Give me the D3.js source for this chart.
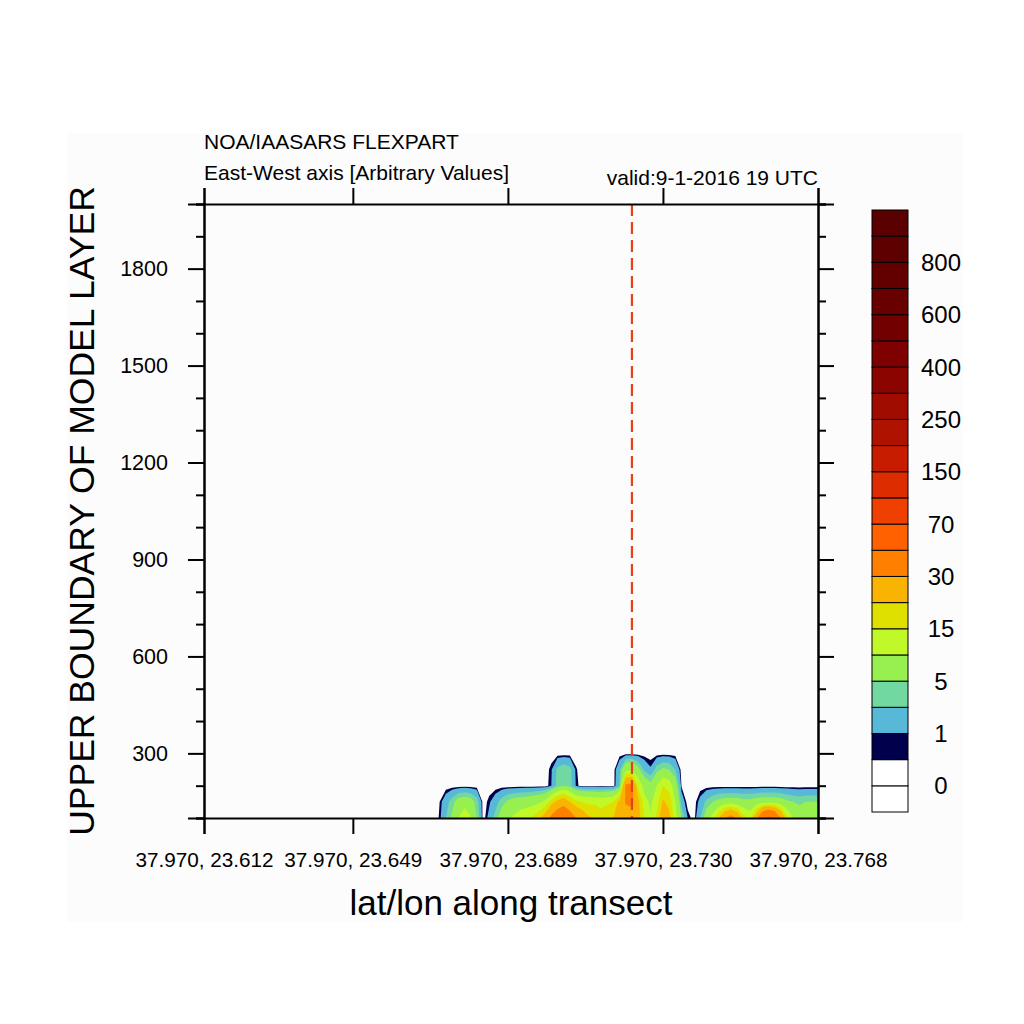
<!DOCTYPE html>
<html>
<head>
<meta charset="utf-8">
<script src="https://cdn.jsdelivr.net/npm/d3@7"></script>
<style>
  html, body { margin: 0; padding: 0; background: #ffffff; }
  svg { display: block; }
  text { font-family: "Liberation Sans", Arial, Helvetica, sans-serif; fill: #000; }
</style>
</head>
<body>
<svg id="chart" width="1024" height="1024"></svg>
<script>
// ---------------- DATA ----------------
const titleLeft1 = "NOA/IAASARS FLEXPART";
const titleLeft2 = "East-West axis [Arbitrary Values]";
const titleRight = "valid:9-1-2016 19 UTC";
const xTitle = "lat/lon along transect";
const yTitle = "UPPER BOUNDARY OF MODEL LAYER";

const nCols = 100;                       // transect points (index 0..99)
const xTickIndex = [0, 24, 49, 74, 99];
const xTickLabels = ["37.970, 23.612", "37.970, 23.649", "37.970, 23.689", "37.970, 23.730", "37.970, 23.768"];
const yDomain = [100, 2000];
const yMajorTicks = [300, 600, 900, 1200, 1500, 1800];
const yMinorTicks = [100, 200, 400, 500, 700, 800, 1000, 1100, 1300, 1400, 1600, 1700, 1900, 2000];
const markerIndex = 69;                  // dashed red vertical line

// grid rows (heights of model levels) and values per row, starting at column colStart
const rowHeights = [100, 150, 200, 250, 300, 350];
const colStart = 37;
const row100 = [0, 0.6, 3, 5.5, 10, 14, 10.5, 5, 0, 1.5, 4, 7, 9, 11, 13, 14, 16, 19, 24, 33, 40, 45, 38, 30, 25, 21, 20, 18, 19, 20, 23, 25, 26, 22, 15, 10.5, 16, 25, 22, 12, 5, 1, 0, 3, 7, 12, 20, 30, 35, 28, 17, 13, 25, 45, 55, 48, 30, 16, 10, 7, 9, 9.5, 9];
const row150 = [0, 0.5, 2, 4, 6.5, 7.5, 6.5, 4, 0, 0.8, 2, 4, 5.5, 6.5, 7, 7.5, 8, 9, 11, 17, 22, 25, 20, 16, 15, 14, 14, 13, 14, 15, 22, 31, 32, 22, 12, 9, 13, 21, 18, 10, 2, 0, 0, 1.5, 3.5, 5, 6, 6.5, 6.5, 6.5, 6, 6, 6.5, 7, 7, 7, 6.5, 5.5, 5, 4.5, 5, 5, 5];
const row200 = [0, 0, 0, 0, 0, 0, 0, 0, 0, 0, 0, 0, 0, 0, 0, 0, 0, 0, 0, 1, 3.8, 4.8, 4, 0.8, 0, 0, 0, 0, 0, 0, 2.9, 32, 33, 14, 8, 6, 10, 15, 13, 7, 0.4, 0, 0, 0, 0, 0, 0, 0, 0, 0, 0, 0, 0, 0, 0, 0, 0, 0, 0, 0, 0, 0, 0];
const row250 = [0, 0, 0, 0, 0, 0, 0, 0, 0, 0, 0, 0, 0, 0, 0, 0, 0, 0, 0, 0.8, 3.5, 4.5, 3.6, 0.6, 0, 0, 0, 0, 0, 0, 2.5, 8.5, 9, 6, 2.5, 1.2, 4, 5.5, 5, 3, 0, 0, 0, 0, 0, 0, 0, 0, 0, 0, 0, 0, 0, 0, 0, 0, 0, 0, 0, 0, 0, 0, 0];
const row300 = [];
const row350 = [];

// colour levels (boundaries) and fill colours (one more than boundaries)
const levels = [0, 0.5, 1, 3, 5, 10, 15, 20, 30, 50, 70, 100, 150, 200, 250, 300, 400, 500, 600, 700, 800, 900];
const levelColors = ["#ffffff", "#ffffff", "#00004c", "#58b8d8", "#70d8a0", "#98f050", "#c0f828", "#e0e000",
  "#f8b400", "#ff8000", "#ff6000", "#f04000", "#dc2c00", "#c81c00", "#b01200", "#a00c00", "#8c0400",
  "#7e0000", "#720000", "#680000", "#620000", "#5e0000", "#5a0000"];
const barLabels = ["0", "1", "5", "15", "30", "70", "150", "250", "400", "600", "800"];

// ---------------- LAYOUT ----------------
const svg = d3.select("#chart");
const plot = { left: 204, right: 818, top: 204, bottom: 818 };
const font = '"Liberation Sans", Arial, Helvetica, sans-serif';

svg.append("rect").attr("x", 67).attr("y", 133).attr("width", 896).attr("height", 789).attr("fill", "#fcfcfc");

const xScale = d3.scaleLinear().domain([0, nCols - 1]).range([plot.left, plot.right]);
const yScale = d3.scaleLinear().domain(yDomain).range([plot.bottom, plot.top]);

// ---------------- GRID & CONTOURS ----------------
const rows = [row100, row150, row200, row250, row300, row350];
const grid = new Array(nCols * rowHeights.length).fill(0);
rows.forEach((r, j) => {
  r.forEach((v, k) => { grid[j * nCols + colStart + k] = v; });
});
const rowStep = rowHeights[1] - rowHeights[0];

const contourGen = d3.contours().size([nCols, rowHeights.length]).thresholds(levels.slice(1));
const bands = contourGen(grid);

const proj = d3.geoTransform({
  point: function (gx, gy) {
    this.stream.point(xScale(gx - 0.5), yScale(rowHeights[0] + (gy - 0.5) * rowStep));
  }
});
const path = d3.geoPath(proj);

svg.append("clipPath").attr("id", "plotclip")
  .append("rect").attr("x", plot.left).attr("y", plot.top)
  .attr("width", plot.right - plot.left).attr("height", plot.bottom - plot.top);

const gC = svg.append("g").attr("clip-path", "url(#plotclip)");
gC.selectAll("path").data(bands).join("path")
  .attr("d", path)
  .attr("fill", (d, i) => levelColors[i + 2])
  .attr("stroke", "none");

// dashed marker line
gC.append("line")
  .attr("x1", xScale(markerIndex)).attr("x2", xScale(markerIndex))
  .attr("y1", plot.top).attr("y2", plot.bottom)
  .attr("stroke", "#e8401a").attr("stroke-width", 2.2)
  .attr("stroke-dasharray", "12,6");

// ---------------- AXES ----------------
function styleAxis(g) {
  g.selectAll(".domain").attr("stroke", "#000").attr("stroke-width", 2);
  g.selectAll(".tick line").attr("stroke", "#000").attr("stroke-width", 2);
  g.selectAll("text").attr("font-family", font).attr("fill", "#000");
}

// left
const gL = svg.append("g").attr("transform", `translate(${plot.left},0)`)
  .call(d3.axisLeft(yScale).tickValues(yMajorTicks).tickSize(16).tickPadding(20).tickFormat(d3.format("d")));
gL.call(styleAxis);
gL.selectAll("text").attr("font-size", 21.5);
svg.append("g").attr("transform", `translate(${plot.left},0)`)
  .call(d3.axisLeft(yScale).tickValues(yMinorTicks).tickSize(8).tickFormat(""))
  .call(styleAxis);

// right
svg.append("g").attr("transform", `translate(${plot.right},0)`)
  .call(d3.axisRight(yScale).tickValues(yMajorTicks).tickSize(16).tickFormat(""))
  .call(styleAxis);
svg.append("g").attr("transform", `translate(${plot.right},0)`)
  .call(d3.axisRight(yScale).tickValues(yMinorTicks).tickSize(8).tickFormat(""))
  .call(styleAxis);

// top
svg.append("g").attr("transform", `translate(0,${plot.top})`)
  .call(d3.axisTop(xScale).tickValues(xTickIndex).tickSize(16).tickFormat(""))
  .call(styleAxis);

// bottom
const gB = svg.append("g").attr("transform", `translate(0,${plot.bottom})`)
  .call(d3.axisBottom(xScale).tickValues(xTickIndex).tickSize(16).tickPadding(18)
    .tickFormat((d, i) => xTickLabels[i]));
gB.call(styleAxis);
gB.selectAll("text").attr("font-size", 20.7);

// ---------------- TITLES ----------------
svg.append("text").attr("x", plot.left).attr("y", 149).attr("font-size", 21).text(titleLeft1);
svg.append("text").attr("x", plot.left).attr("y", 180).attr("font-size", 21).text(titleLeft2);
svg.append("text").attr("x", plot.right).attr("y", 185).attr("font-size", 21)
  .attr("text-anchor", "end").text(titleRight);

svg.append("text").attr("x", (plot.left + plot.right) / 2).attr("y", 915)
  .attr("font-size", 35).attr("text-anchor", "middle").text(xTitle);
svg.append("text").attr("transform", `translate(93.5,511) rotate(-90)`)
  .attr("font-size", 35.5).attr("text-anchor", "middle").text(yTitle);

// ---------------- COLOR BAR ----------------
const bar = { x: 872, w: 36, top: 210, bottom: 812 };
const barScale = d3.scaleLinear().domain([0, levelColors.length]).range([bar.bottom, bar.top]);
const gBar = svg.append("g");
gBar.selectAll("rect").data(levelColors).join("rect")
  .attr("x", bar.x).attr("width", bar.w)
  .attr("y", (d, i) => barScale(i + 1))
  .attr("height", (d, i) => barScale(i) - barScale(i + 1))
  .attr("fill", d => d)
  .attr("stroke", "#000").attr("stroke-width", 1);

gBar.selectAll("text").data(barLabels).join("text")
  .attr("x", 941)
  .attr("y", (d, i) => barScale(2 * i + 1))
  .attr("dy", "0.36em")
  .attr("font-size", 24)
  .attr("text-anchor", "middle")
  .text(d => d);
</script>
</body>
</html>
